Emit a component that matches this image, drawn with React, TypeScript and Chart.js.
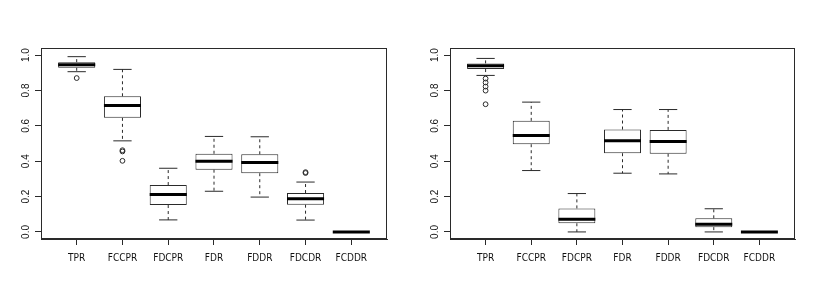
import React, { useEffect, useRef } from 'react';
import { Chart, registerables } from 'chart.js';

Chart.register(...registerables);

const categories = ['TPR', 'FCCPR', 'FDCPR', 'FDR', 'FDDR', 'FDCDR', 'FCDDR'];
const yTicks = [0, 0.2, 0.4, 0.6, 0.8, 1.0];

// Left panel
const leftLow = [0.906, 0.515, 0.068, 0.230, 0.197, 0.067, 0];
const leftQ1 = [0.928, 0.645, 0.152, 0.352, 0.332, 0.154, 0];
const leftMedian = [0.945, 0.715, 0.212, 0.400, 0.393, 0.187, 0];
const leftQ3 = [0.960, 0.767, 0.265, 0.442, 0.439, 0.220, 0];
const leftHigh = [0.991, 0.919, 0.360, 0.540, 0.538, 0.282, 0];
const leftOutlierCat = [1, 2, 2, 2, 6, 6];
const leftOutlierVal = [0.870, 0.462, 0.455, 0.402, 0.338, 0.333];

// Right panel
const rightLow = [0.885, 0.347, 0, 0.332, 0.328, 0, 0];
const rightQ1 = [0.921, 0.496, 0.049, 0.445, 0.442, 0.027, 0];
const rightMedian = [0.940, 0.545, 0.071, 0.515, 0.511, 0.044, 0];
const rightQ3 = [0.953, 0.628, 0.133, 0.579, 0.577, 0.077, 0];
const rightHigh = [0.981, 0.734, 0.217, 0.692, 0.692, 0.131, 0];
const rightOutlierCat = [1, 1, 1, 1, 1];
const rightOutlierVal = [0.867, 0.845, 0.822, 0.799, 0.722];

const LINE = '#2a2a2a';

type Panel = {
  low: number[]; q1: number[]; med: number[]; q3: number[]; high: number[];
  oc: number[]; ov: number[];
};

const framePlugin = {
  id: 'frame',
  afterDraw(chart: any) {
    const { ctx, chartArea: a } = chart;
    ctx.save();
    ctx.strokeStyle = LINE;
    ctx.lineWidth = 1;
    ctx.strokeRect(Math.round(a.left) + 0.5, Math.round(a.top) + 0.5,
      Math.round(a.right) - Math.round(a.left) - 1, Math.round(a.bottom) - Math.round(a.top) - 1);
    ctx.restore();
  },
};

function buildConfig(p: Panel, padRight: number, yWidth: number): any {
  const whiskers: any[] = [];
  const caps: any[] = [];
  const medians: any[] = [];
  categories.forEach((_, i) => {
    const x = i + 1;
    whiskers.push({ x, y: p.q3[i] }, { x, y: p.high[i] }, { x, y: null });
    whiskers.push({ x, y: p.q1[i] }, { x, y: p.low[i] }, { x, y: null });
    caps.push({ x: x - 0.2, y: p.high[i] }, { x: x + 0.2, y: p.high[i] }, { x, y: null });
    caps.push({ x: x - 0.2, y: p.low[i] }, { x: x + 0.2, y: p.low[i] }, { x, y: null });
    medians.push({ x: x - 0.405, y: p.med[i] }, { x: x + 0.405, y: p.med[i] }, { x, y: null });
  });
  const boxes = categories.map((_, i) => ({ x: i + 1, y: [p.q1[i], p.q3[i]] }));
  const outliers = p.oc.map((c, i) => ({ x: c, y: p.ov[i] }));

  return {
    type: 'bar',
    data: {
      datasets: [
        {
          type: 'line', data: medians, borderColor: '#000', borderWidth: 3,
          pointRadius: 0, spanGaps: false, tension: 0, fill: false, order: 0,
          borderCapStyle: 'butt',
        },
        {
          type: 'line', data: outliers, showLine: false, pointRadius: 2.4,
          pointStyle: 'circle', pointBackgroundColor: 'rgba(0,0,0,0)',
          pointBorderColor: LINE, pointBorderWidth: 1, order: 1,
        },
        {
          type: 'bar', data: boxes, backgroundColor: '#ffffff', borderColor: LINE,
          borderWidth: 1, borderSkipped: false, barPercentage: 0.81,
          categoryPercentage: 1, order: 2,
        },
        {
          type: 'line', data: whiskers, borderColor: LINE, borderWidth: 1,
          borderDash: [3, 3], pointRadius: 0, spanGaps: false, tension: 0, fill: false, order: 3,
        },
        {
          type: 'line', data: caps, borderColor: LINE, borderWidth: 1,
          pointRadius: 0, spanGaps: false, tension: 0, fill: false, order: 4,
        },
      ],
    },
    options: {
      responsive: false,
      animation: false,
      events: [],
      layout: { padding: { top: 48, right: padRight, bottom: 0, left: 0 } },
      plugins: { legend: { display: false }, tooltip: { enabled: false } },
      scales: {
        x: {
          type: 'linear', min: 0.22, max: 7.78, bounds: 'data', offset: false,
          afterBuildTicks: (s: any) => { s.ticks = categories.map((_, i) => ({ value: i + 1 })); },
          afterFit: (s: any) => { s.height = 61; },
          grid: { offset: false, drawOnChartArea: false, drawTicks: true, tickLength: 6, color: LINE },
          border: { display: true, color: LINE },
          ticks: {
            autoSkip: false, maxRotation: 0, minRotation: 0, padding: 7, color: '#111',
            font: { family: '"Liberation Sans Narrow", "DejaVu Sans Condensed", "Liberation Sans", Arial, sans-serif', size: 10 },
            callback: (v: any) => categories[Math.round(Number(v)) - 1] ?? '',
          },
        },
        y: {
          type: 'linear', min: -0.04, max: 1.04, bounds: 'data',
          afterBuildTicks: (s: any) => { s.ticks = yTicks.map((v) => ({ value: v })); },
          afterFit: (s: any) => { s.width = yWidth; },
          grid: { drawOnChartArea: false, drawTicks: true, tickLength: 6, color: LINE },
          border: { display: true, color: LINE },
          ticks: {
            autoSkip: false, minRotation: 90, maxRotation: 90, crossAlign: 'center', padding: 2,
            color: '#111',
            font: { family: '"Liberation Sans", Arial, sans-serif', size: 10 },
            callback: (v: any) => Number(v).toFixed(1),
          },
        },
      },
    },
    plugins: [framePlugin],
  };
}

function BoxPanel({ panel, width, left, padRight, yWidth }: { panel: Panel; width: number; left: number; padRight: number; yWidth: number }) {
  const ref = useRef<HTMLCanvasElement | null>(null);
  useEffect(() => {
    if (!ref.current) return;
    const chart = new Chart(ref.current, buildConfig(panel, padRight, yWidth));
    return () => chart.destroy();
  }, [panel, padRight, yWidth]);
  return (
    <canvas
      ref={ref}
      width={width}
      height={300}
      style={{ position: 'absolute', left, top: 0, width, height: 300, display: 'block' }}
    />
  );
}

const leftPanel: Panel = { low: leftLow, q1: leftQ1, med: leftMedian, q3: leftQ3, high: leftHigh, oc: leftOutlierCat, ov: leftOutlierVal };
const rightPanel: Panel = { low: rightLow, q1: rightQ1, med: rightMedian, q3: rightQ3, high: rightHigh, oc: rightOutlierCat, ov: rightOutlierVal };

export default function App() {
  return (
    <div style={{ position: 'absolute', left: 0, top: 0, width: 817, height: 300, background: '#ffffff', overflow: 'hidden' }}>
      <BoxPanel panel={leftPanel} width={408} left={0} padRight={21} yWidth={41} />
      <BoxPanel panel={rightPanel} width={409} left={408} padRight={22} yWidth={42} />
    </div>
  );
}
